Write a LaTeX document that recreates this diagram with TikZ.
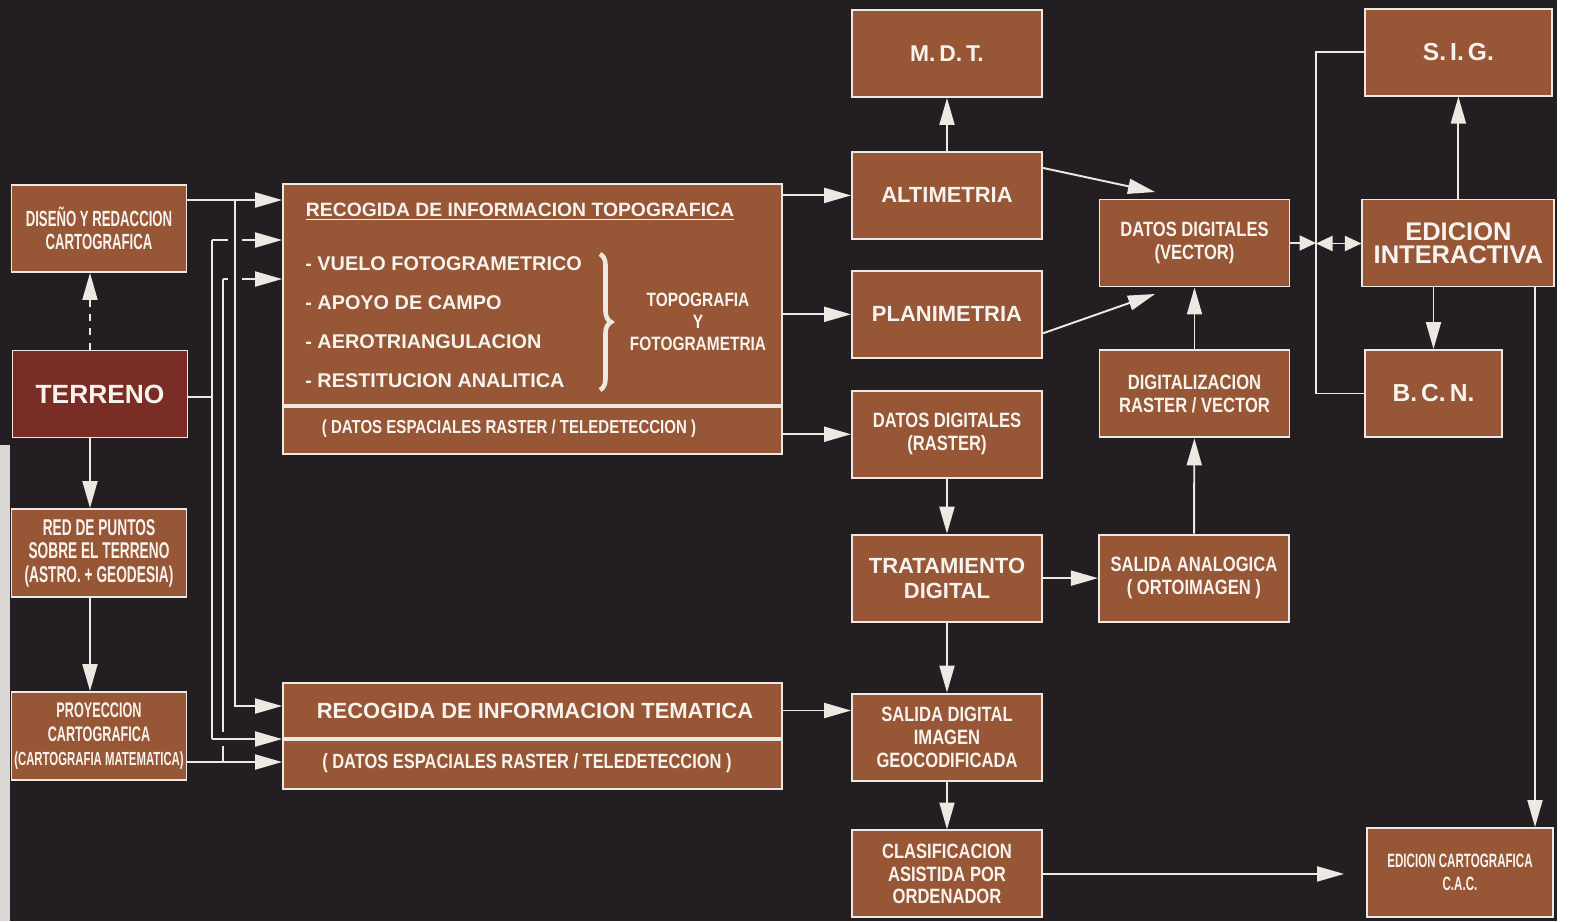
\documentclass[tikz,border=0pt]{standalone}
\usepackage{fontspec}
\setmainfont{Liberation Sans}
\newfontfamily\narrow[FakeStretch=0.8]{Liberation Sans}
\newfontfamily\tight[FakeStretch=0.6]{Liberation Sans}
\usetikzlibrary{arrows.meta,positioning,calc,decorations.pathreplacing}
\definecolor{night}{HTML}{231E21}
\definecolor{brick}{HTML}{975636}
\definecolor{blood}{HTML}{7A2D25}
\definecolor{chalk}{HTML}{EDE8E2}
\definecolor{paper}{HTML}{F7F3EE}
\definecolor{scan}{HTML}{DAD7D4}
\tikzset{
  box/.style={rectangle, draw=chalk, fill=brick, line width=1.1pt, text=paper,
              align=center, inner sep=1pt, minimum width=3.8cm, minimum height=1.74cm},
  side/.style={box, minimum width=3.5cm},
  bigtxt/.style={font=\fontsize{12.5}{14}\selectfont\bfseries},
  medtxt/.style={font=\narrow\fontsize{11.8}{13}\selectfont\bfseries},
  slimtxt/.style={font=\tight\fontsize{12.5}{13.4}\selectfont\bfseries},
  lbl/.style={text=paper, inner sep=0pt, align=center},
  fl/.style={-{Triangle[length=5.4mm,width=3mm]}, draw=chalk, line width=1.1pt},
  flsm/.style={-{Triangle[length=3.3mm,width=3mm]}, draw=chalk, line width=1.1pt},
  flboth/.style={{Triangle[length=3.3mm,width=3mm]}-{Triangle[length=3.3mm,width=3mm]},
                 draw=chalk, line width=1.1pt},
  wire/.style={draw=chalk, line width=1.1pt}
}

\begin{document}
\begin{tikzpicture}[x=0.02cm, y=-0.02cm]
  \useasboundingbox (0,0) rectangle (1569,921);
  \fill[night] (0,0) rectangle (1569,921);

  % left column
  \node[side, slimtxt] (dis) at (99,228.5) {DISEÑO Y REDACCION\\CARTOGRAFICA};
  \node[side, fill=blood, font=\fontsize{15}{17}\selectfont\bfseries] (ter) at (100,394) {TERRENO};
  \node[side, font=\tight\fontsize{13}{13.4}\selectfont\bfseries, minimum height=1.76cm] (red) at (99,553)
    {RED DE PUNTOS\\SOBRE EL TERRENO\\(ASTRO. + GEODESIA)};
  \node[side, font=\tight\fontsize{12}{13.6}\selectfont\bfseries, minimum height=1.76cm] (pro) at (99,736)
    {PROYECCION\\CARTOGRAFICA\\{\fontsize{10.8}{13.6}\selectfont(CARTOGRAFIA MATEMATICA)}};

  % collecting boxes
  \node[box, minimum width=9.98cm, minimum height=4.42cm] (rittop) at (532.5,294.5) {};
  \node[box, minimum width=9.98cm, minimum height=0.94cm, below=0pt of rittop] (ritlow) {};
  \node[box, minimum width=9.98cm, minimum height=1.1cm] (temtop) at (532.5,710.5) {};
  \node[box, minimum width=9.98cm, minimum height=0.98cm, below=0pt of temtop] (temlow) {};

  \node[lbl, font=\fontsize{11}{13}\selectfont\bfseries] (ttopo) at (520,212)
    {\underline{RECOGIDA DE INFORMACION TOPOGRAFICA}};
  \foreach \txt [count=\i] in {VUELO FOTOGRAMETRICO, APOYO DE CAMPO, AEROTRIANGULACION, RESTITUCION ANALITICA}
    \node[lbl, anchor=west, font=\fontsize{11.3}{13}\selectfont\bfseries] (task\i) at (305,{225+39*\i}) {- \txt};
  \draw[chalk, line width=2.6pt, decorate, decoration={brace, amplitude=0.22cm}] (600,254) -- (600,390);
  \node[lbl, font=\narrow\fontsize{11}{12.4}\selectfont\bfseries] (tyf) at (698,322) {TOPOGRAFIA\\Y\\FOTOGRAMETRIA};
  \node[lbl, font=\narrow\fontsize{10.7}{12}\selectfont\bfseries] (rasa) at (509,428.5)
    {( DATOS ESPACIALES RASTER / TELEDETECCION )};
  \node[lbl, bigtxt] (ttema) at (535,711) {RECOGIDA DE INFORMACION TEMATICA};
  \node[lbl, font=\narrow\fontsize{11.7}{13}\selectfont\bfseries] (rasb) at (527,763)
    {( DATOS ESPACIALES RASTER / TELEDETECCION )};

  % middle column
  \node[box, font=\fontsize{13}{15}\selectfont\bfseries] (mdt) at (947,53.5) {M.\,D.\,T.};
  \node[box, bigtxt, below=1.06cm of mdt] (alt) {ALTIMETRIA};
  \node[box, bigtxt, below=0.6cm of alt] (pla) {PLANIMETRIA};
  \node[box, medtxt, below=0.62cm of pla] (ras) {DATOS DIGITALES\\(RASTER)};
  \node[box, bigtxt, below=1.1cm of ras] (tra) {TRATAMIENTO\\DIGITAL};
  \node[box, medtxt, below=1.4cm of tra] (sdi) {SALIDA DIGITAL\\IMAGEN\\GEOCODIFICADA};
  \node[box, medtxt, below=0.96cm of sdi] (cla) {CLASIFICACION\\ASISTIDA POR\\ORDENADOR};

  % right columns
  \node[box, medtxt] (vec) at (1194.5,243) {DATOS DIGITALES\\(VECTOR)};
  \node[box, medtxt, below=1.24cm of vec] (dgt) {DIGITALIZACION\\RASTER / VECTOR};
  \node[box, medtxt, right=1.1cm of tra] (ana) {SALIDA ANALOGICA\\( ORTOIMAGEN )};
  \node[box, font=\fontsize{14.5}{13.2}\selectfont\bfseries, minimum width=3.84cm, right=1.42cm of vec] (edi)
    {EDICION\\INTERACTIVA};
  \node[box, font=\fontsize{14}{16}\selectfont\bfseries, minimum width=3.74cm, above=2.04cm of edi] (sig) {S.\,I.\,G.};
  \node[box, font=\fontsize{14}{16}\selectfont\bfseries, minimum width=2.74cm] (bcn) at (1433.5,393.5) {B.\,C.\,N.};
  \node[box, font=\tight\fontsize{11}{13}\selectfont\bfseries, minimum width=3.72cm, minimum height=1.78cm] (cac)
    at (1460,872.5) {EDICION CARTOGRAFICA\\C.A.C.};

  % connectors
  \draw[fl] (alt) -- (mdt);
  \draw[fl] (rittop.east |- alt.west) -- (alt.west);
  \draw[fl] (rittop.east |- pla.west) -- (pla.west);
  \draw[fl] (ritlow.east |- ras.west) -- (ras.west);
  \draw[fl] (temtop.east) -- (temtop.east -| sdi.west);
  \draw[fl] (ras) -- (tra);
  \draw[fl] (tra) -- (sdi);
  \draw[fl] (sdi) -- (cla);
  \draw[fl] (tra) -- (ana);
  \draw[fl] (ana) -- (dgt);
  \draw[fl] (dgt) -- (vec);
  \coordinate (hitA) at (1155,192);
  \coordinate (hitB) at (1155,294);
  \draw[fl] ([yshift=0.55cm]alt.east) -- (hitA);
  \draw[fl] ([yshift=-0.38cm]pla.east) -- (hitB);
  \coordinate (bus) at (1316,243.5);
  \draw[wire] (sig.west) -| (bus) |- (bcn.west);
  \draw[flsm] (vec.east) -- (vec.east -| bus);
  \draw[flboth] (bus) -- (bus -| edi.west);
  \draw[fl] (edi) -- (sig);
  \draw[fl] (edi.south -| bcn.north) -- (bcn.north);
  \coordinate (drop) at (1535,0);
  \draw[fl] (edi.south -| drop) -- (cac.north -| drop);
  \draw[fl, shorten >=0.44cm] (cla.east) -- (cla.east -| cac.west);

  \coordinate (spine) at (90,0);
  \draw[fl, dash pattern=on 4pt off 4pt] (ter.north -| spine) -- (dis.south -| spine);
  \draw[fl] (ter.south -| spine) -- (red.north -| spine);
  \draw[fl] (red.south -| spine) -- (pro.north -| spine);

  % feeds into the collecting boxes
  \coordinate (a1) at (235,200); \coordinate (a2) at (235,706);
  \coordinate (b1) at (212,240); \coordinate (b2) at (212,739);
  \coordinate (c1) at (223,279); \coordinate (c2) at (223,762);
  \draw[fl] (dis.east |- a1) -- (rittop.west |- a1);
  \draw[fl] (a1) -- (a2) -- (temtop.west |- a2);
  \draw[wire] (ter.east |- 0,397) -- (b1 |- 0,397);
  \draw[wire] (b1) -- (b2);
  \draw[wire] (b1) -- ($(b1 -| a1)+(-7,0)$);
  \draw[fl] ($(b1 -| a1)+(7,0)$) -- (rittop.west |- b1);
  \draw[fl] (b2) -- (b2 -| temtop.west);
  \draw[wire] (c1) -- ($(c2)+(0,-30)$);
  \draw[wire] ($(c2)+(0,-16)$) -- (c2);
  \draw[wire] (c1) -- ($(c1 -| a1)+(-7,0)$);
  \draw[fl] ($(c1 -| a1)+(7,0)$) -- (rittop.west |- c1);
  \draw[fl] (pro.east |- c2) -- (temlow.west |- c2);

  % scan edges
  \fill[scan] (0,445) rectangle (10,921);
  \fill[white] (1557,0) rectangle (1569,921);
\end{tikzpicture}
\end{document}
